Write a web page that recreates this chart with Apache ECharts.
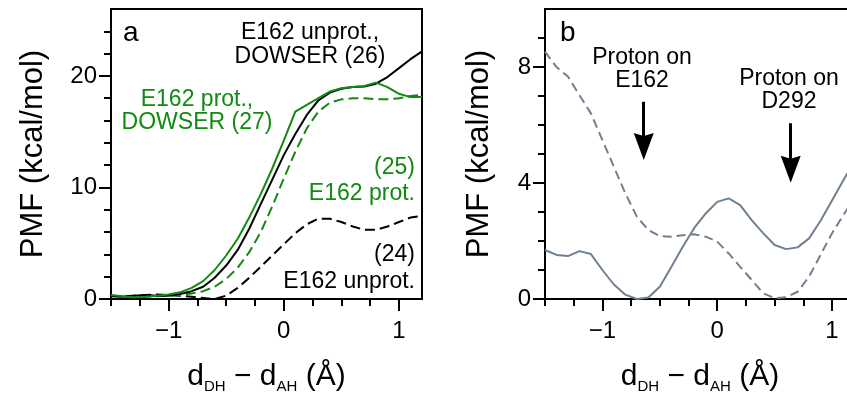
<!DOCTYPE html>
<html>
<head>
<meta charset="utf-8">
<script src="https://cdn.jsdelivr.net/npm/echarts@6/dist/echarts.min.js"></script>
<style>
html,body{margin:0;padding:0;background:#fff;}
#chart{width:847px;height:394px;}
</style>
</head>
<body>
<div id="chart"></div>
<script>
// ---------- data ----------
const xs = [-1.5,-1.4,-1.3,-1.2,-1.1,-1.0,-0.9,-0.8,-0.7,-0.6,-0.5,-0.4,-0.3,-0.2,-0.1,0.0,0.1,0.2,0.3,0.4,0.5,0.6,0.7,0.8,0.9,1.0,1.1,1.2];

// panel a
const unprot24 = [0.3,0.25,0.3,0.35,0.4,0.35,0.3,0.2,0.1,0.0,0.3,1.0,1.9,2.9,3.9,4.9,5.9,6.7,7.2,7.2,6.9,6.5,6.2,6.2,6.5,6.9,7.3,7.45];
const prot25   = [0.3,0.2,0.15,0.2,0.25,0.3,0.35,0.5,0.7,1.1,1.8,2.8,4.2,6.0,8.3,10.8,13.2,15.3,16.8,17.6,17.9,18.0,18.0,17.9,17.9,18.0,18.2,18.3];
const unprot26 = [0.25,0.2,0.3,0.35,0.3,0.3,0.45,0.7,1.1,1.9,3.0,4.4,6.3,8.5,10.7,12.9,14.8,16.5,17.8,18.5,18.85,19.0,19.05,19.3,19.9,20.7,21.5,22.2];
const prot27   = [0.35,0.25,0.15,0.2,0.3,0.4,0.6,1.0,1.6,2.6,3.9,5.4,7.3,9.4,11.7,14.2,16.8,17.4,18.0,18.6,18.9,19.0,19.1,19.4,19.0,18.4,18.1,18.1];

// panel b
const pmfSolidB  = [1.69,1.52,1.48,1.65,1.55,1.0,0.5,0.15,0.0,0.05,0.42,1.1,1.8,2.45,2.95,3.35,3.47,3.24,2.72,2.27,1.86,1.72,1.78,2.09,2.7,3.4,4.1,4.8];
const pmfDashedB = [8.53,8.0,7.67,7.03,6.4,5.48,4.56,3.64,2.84,2.38,2.17,2.15,2.2,2.23,2.15,1.98,1.57,1.11,0.66,0.2,0.03,0.06,0.25,0.77,1.52,2.27,2.9,3.5];

// arrows (panel b): x position, top of shaft, tip
const arrowX   = [-0.64, 0.64];
const arrowTop = [6.8, 6.06];
const arrowTip = [4.79, 4.01];

// ticks
const xMajor = [-1, 0, 1];
const xMajorLabels = ['\u22121', '0', '1'];
const xMinor = [-1.5,-1.25,-1,-0.75,-0.5,-0.25,0,0.25,0.5,0.75,1];
const yMajorA = [0, 10, 20];
const yMajorALabels = ['0', '10', '20'];
const yMinorA = [0,2,4,6,8,10,12,14,16,18,20,22,24];
const yMajorB = [0, 4, 8];
const yMajorBLabels = ['0', '4', '8'];
const yMinorB = [0,1,2,3,4,5,6,7,8,9];

// ---------- styling ----------
const FONT = 'Liberation Sans, Arial, Helvetica, sans-serif';
const GREEN = '#118a11';
const SLATE = '#708090';

function pairs(x, y) { return x.map((v, i) => [v, y[i]]); }
function lab(values, labels) {
  return v => { const i = values.findIndex(t => Math.abs(t - v) < 1e-9); return i >= 0 ? labels[i] : ''; };
}

const chart = echarts.init(document.getElementById('chart'), null, {renderer: 'canvas'});

const axisLine = {show: true, onZero: false, lineStyle: {color: '#000', width: 2}};
const hiddenLine = {show: false, onZero: false};
const xName = 'd{s|DH} \u2212 d{s|AH} (\u00c5)';
const xNameStyle = {fontSize: 30, color: '#000', fontFamily: FONT,
  rich: {s: {fontSize: 15, color: '#000', fontFamily: FONT, verticalAlign: 'bottom', padding: [0, 0, -2, 0]}}};

function xMajorAxis(g) {
  return {gridIndex: g, type: 'value', min: -1.5, max: 1.2, position: 'bottom',
    axisLine: axisLine,
    axisTick: {show: true, length: 12, inside: false, customValues: xMajor, lineStyle: {color: '#000', width: 2}},
    axisLabel: {customValues: xMajor, formatter: lab(xMajor, xMajorLabels), fontSize: 24, color: '#000', fontFamily: FONT, margin: 20},
    splitLine: {show: false},
    name: xName, nameLocation: 'middle', nameGap: 63, nameTextStyle: xNameStyle};
}
function xMinorAxis(g) {
  return {gridIndex: g, type: 'value', min: -1.5, max: 1.2, position: 'bottom',
    axisLine: hiddenLine,
    axisTick: {show: true, length: 7, customValues: xMinor, lineStyle: {color: '#000', width: 2}},
    axisLabel: {show: false}, splitLine: {show: false}};
}
function yMajorAxis(g, max, vals, labels, gap) {
  return {gridIndex: g, type: 'value', min: 0, max: max, position: 'left',
    axisLine: axisLine,
    axisTick: {show: true, length: 12, customValues: vals, lineStyle: {color: '#000', width: 2}},
    axisLabel: {customValues: vals, formatter: lab(vals, labels), fontSize: 24, color: '#000', fontFamily: FONT, margin: 14},
    splitLine: {show: false},
    name: 'PMF (kcal/mol)', nameLocation: 'middle', nameGap: gap,
    nameTextStyle: {fontSize: 31, color: '#000', fontFamily: FONT}};
}
function yMinorAxis(g, max, vals) {
  return {gridIndex: g, type: 'value', min: 0, max: max, position: 'left',
    axisLine: hiddenLine,
    axisTick: {show: true, length: 7, customValues: vals, lineStyle: {color: '#000', width: 2}},
    axisLabel: {show: false}, splitLine: {show: false}};
}

function line(xi, yi, data, color, dashed, z) {
  return {type: 'line', xAxisIndex: xi, yAxisIndex: yi, data: data, showSymbol: false, symbol: 'none',
    animation: false, silent: true, z: z || 2,
    lineStyle: {color: color, width: 2, type: dashed ? dashed : 'solid', cap: 'butt'}};
}

const arrowSeries = {
  type: 'line', xAxisIndex: 2, yAxisIndex: 2, data: [], animation: false, silent: true, z: 5,
  markLine: {silent: true, animation: false, symbol: ['none', 'none'],
    lineStyle: {color: '#000', width: 3, type: 'solid'}, label: {show: false},
    data: arrowX.map((x, i) => [{coord: [x, arrowTop[i]]}, {coord: [x, arrowTip[i] + 0.75]}])},
  markPoint: {silent: true, animation: false,
    symbol: 'path://M0,0 L10,3 L20,0 L10,27 Z', symbolSize: [20, 27], symbolOffset: [0, '-50%'],
    itemStyle: {color: '#000'}, label: {show: false},
    data: arrowX.map((x, i) => ({coord: [x, arrowTip[i]]}))}
};

function txt(x, y, text, color, align, size) {
  return {type: 'text', x: x, y: y, silent: true, z: 100,
    style: {text: text, fill: color, font: (size || 23) + 'px ' + FONT, textAlign: align, textVerticalAlign: 'middle'}};
}

const option = {
  backgroundColor: '#fff',
  animation: false,
  grid: [
    {left: 111, top: 9, width: 311, height: 290, outerBoundsMode: 'none', containLabel: false,
     show: true, borderColor: '#000', borderWidth: 2, backgroundColor: 'transparent'},
    {left: 545, top: 9, width: 310, height: 290, outerBoundsMode: 'none', containLabel: false,
     show: true, borderColor: '#000', borderWidth: 2, backgroundColor: 'transparent'}
  ],
  xAxis: [xMajorAxis(0), xMinorAxis(0), xMajorAxis(1), xMinorAxis(1)],
  yAxis: [yMajorAxis(0, 26, yMajorA, yMajorALabels, 62), yMinorAxis(0, 26, yMinorA),
          yMajorAxis(1, 10, yMajorB, yMajorBLabels, 50), yMinorAxis(1, 10, yMinorB)],
  series: [
    line(0, 0, pairs(xs, unprot24), '#000', [10, 5], 2),
    line(0, 0, pairs(xs, prot25), GREEN, [10, 5], 2),
    line(0, 0, pairs(xs, unprot26), '#000', null, 3),
    line(0, 0, pairs(xs, prot27), GREEN, null, 4),
    line(2, 2, pairs(xs, pmfSolidB), SLATE, null, 3),
    line(2, 2, pairs(xs, pmfDashedB), SLATE, [9, 5], 2),
    arrowSeries
  ],
  graphic: [
    txt(123, 33, 'a', '#000', 'left', 28),
    txt(310, 33, 'E162 unprot.,', '#000', 'center'),
    txt(310, 57, 'DOWSER (26)', '#000', 'center'),
    txt(197, 100, 'E162 prot.,', GREEN, 'center'),
    txt(197, 123, 'DOWSER (27)', GREEN, 'center'),
    txt(415, 168, '(25)', GREEN, 'right'),
    txt(415, 194, 'E162 prot.', GREEN, 'right'),
    txt(415, 255, '(24)', '#000', 'right'),
    txt(415, 282, 'E162 unprot.', '#000', 'right'),
    txt(560, 33, 'b', '#000', 'left', 28),
    txt(642, 58, 'Proton on', '#000', 'center'),
    txt(642, 81, 'E162', '#000', 'center'),
    txt(789, 79, 'Proton on', '#000', 'center'),
    txt(789, 102, 'D292', '#000', 'center')
  ]
};
chart.setOption(option);
</script>
</body>
</html>
